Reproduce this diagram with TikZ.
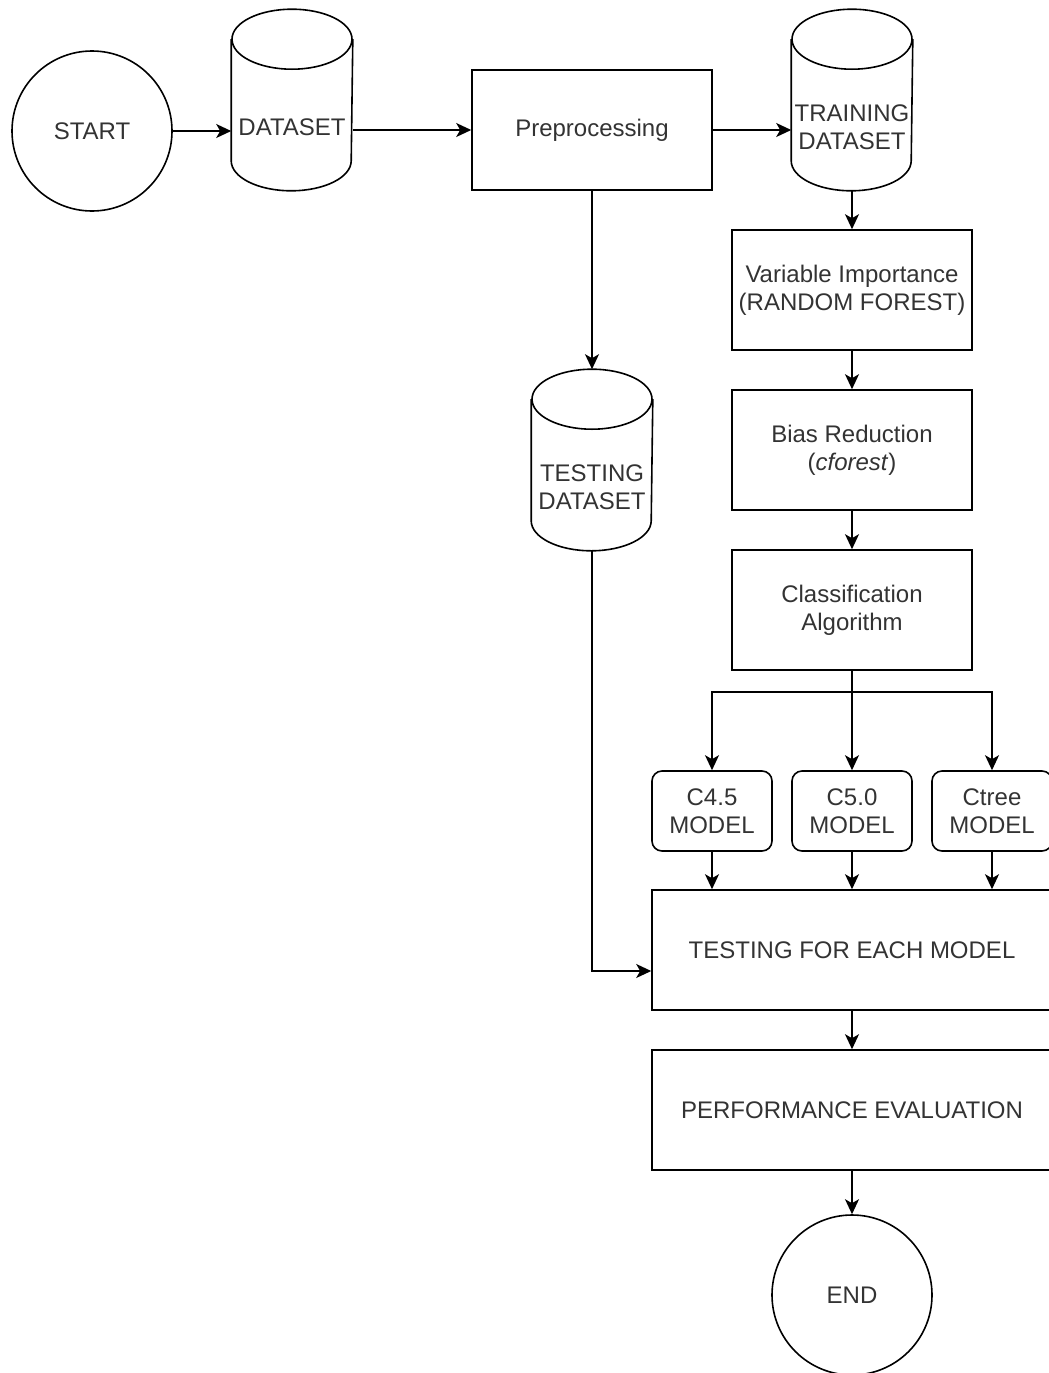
\documentclass[tikz,border=0pt]{standalone}
\usepackage{fontspec}
\setmainfont{Liberation Sans}
\usetikzlibrary{arrows.meta}

% label of a database, set below the top ellipse
\newcommand{\dbtext}[1]{\raisebox{-36pt}[0pt][0pt]{\begin{tabular}{@{}c@{}}#1\end{tabular}}}

\begin{document}
\begin{tikzpicture}[x=1pt, y=-1pt, node distance=160pt,
			line width=1.6pt, >={Stealth[length=15pt,width=14pt,inset=4pt]},
			every node/.style={font=\fontsize{24}{28}\selectfont, text=black!80, align=center},
			term node/.style={circle,draw=black,minimum size=160pt,inner sep=0pt},
			data node/.style={rectangle,minimum width=120pt,minimum height=180pt,inner sep=0pt,
				append after command={\pgfextra{
					\draw ([yshift=-30pt]\tikzlastnode.north) ellipse [x radius=60pt,y radius=30pt];
					\draw ([yshift=-30pt]\tikzlastnode.north west) -- ([yshift=30pt]\tikzlastnode.south west)
					arc [start angle=180,end angle=360,x radius=60pt,y radius=30pt]
					-- ([yshift=-30pt]\tikzlastnode.north east);}}},
			proc node/.style={rectangle,draw=black,minimum width=240pt,minimum height=120pt},
			wide node/.style={rectangle,draw=black,minimum width=400pt,minimum height=120pt},
			model node/.style={rectangle,rounded corners=10pt,draw=black,minimum width=120pt,minimum height=80pt}]
			
			\useasboundingbox (0,0) rectangle (1049,1373);
			
			\node[term node] (start) at (92,131) {START};
			\node[data node] (ds) at (292,100) {\dbtext{DATASET}};
			\node[proc node] (pre) at (592,130) {Preprocessing};
			\node[data node] (tr) at (852,100) {\dbtext{TRAINING\\DATASET}};
			\node[data node] (ts) at (592,460) {\dbtext{TESTING\\DATASET}};
			
			\node[proc node] (vi) at (852,290) {Variable Importance\\(RANDOM FOREST)};
			\node[proc node] (bias) [below of=vi] {Bias Reduction\\(\textit{cforest})};
			\node[proc node] (cls) [below of=bias] {Classification\\Algorithm};
			
			\node[model node] (m1) at (712,811) {C4.5\\MODEL};
			\node[model node] (m2) at (852,811) {C5.0\\MODEL};
			\node[model node] (m3) at (992,811) {Ctree\\MODEL};
			
			\node[wide node] (test) at (852,950) {TESTING FOR EACH MODEL};
			\node[wide node] (perf) [below of=test] {PERFORMANCE EVALUATION};
			\node[term node] (end) at (852,1295) {END};
			
			\coordinate (split) at (852,692);
			
			\path[->]
			(start) edge (start -| ds.west)
			(pre -| ds.east) edge (pre.west)
			(pre.east) edge (pre -| tr.west)
			(tr.south) edge (vi)
			(pre) edge (ts.north)
			(vi) edge (bias)
			(bias) edge (cls)
			(m1) edge (m1 |- test.north)
			(m2) edge (m2 |- test.north)
			(m3) edge (m3 |- test.north)
			(test) edge (perf)
			(perf) edge (end);
			
			\draw (cls) -- (split);
			\draw[->] (split) -| (m1);
			\draw[->] (split) -- (m2);
			\draw[->] (split) -| (m3);
			\draw[->] (ts.south) |- ([yshift=-21pt]test.west);
			
		\end{tikzpicture}
\end{document}
